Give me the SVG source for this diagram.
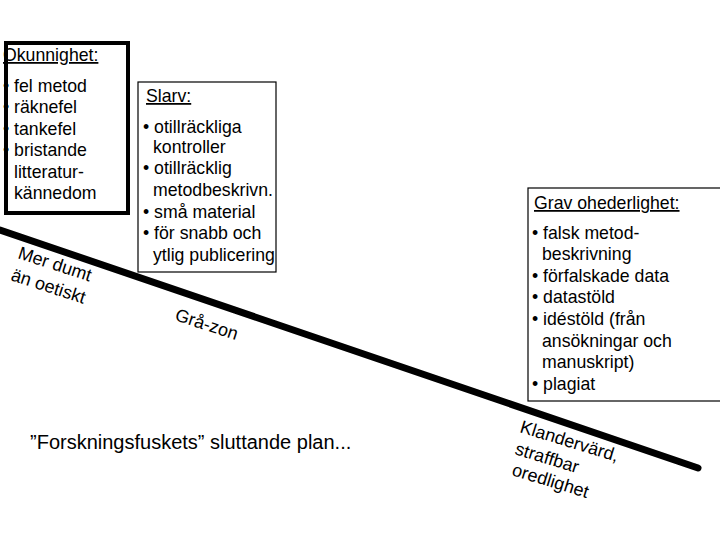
<svg xmlns="http://www.w3.org/2000/svg" width="720" height="540" viewBox="0 0 720 540">
<style>
text{font-family:"Liberation Sans",Arial,sans-serif;fill:#000}
.t{font-size:17.7px}
.h{font-size:17.7px;text-decoration:underline}
.r{font-size:18px}
.box{fill:#fff;stroke:#000}
</style>
<rect width="720" height="540" fill="#fff"/>
<g id="connectors">
<line x1="0" y1="230" x2="698" y2="468" stroke="#000" stroke-width="7" stroke-linecap="round"/>
</g>
<g id="okunnighet">
<rect class="box" x="6" y="43" width="122" height="170" stroke-width="4"/>
<text class="h" x="3" y="61">Okunnighet:</text>
<text class="t" x="3" y="92">• fel metod</text>
<text class="t" x="3" y="113">• räknefel</text>
<text class="t" x="3" y="135">• tankefel</text>
<text class="t" x="3" y="156">• bristande</text>
<text class="t" x="14" y="178">litteratur-</text>
<text class="t" x="14" y="199">kännedom</text>
<rect x="6" y="43" width="122" height="170" fill="none" stroke="#000" stroke-width="4"/>
</g>
<g id="slarv">
<rect class="box" x="138" y="82" width="138" height="190" stroke-width="1.2"/>
<text class="h" x="146" y="102">Slarv:</text>
<text class="t" x="143" y="133">• otillräckliga</text>
<text class="t" x="153" y="153">kontroller</text>
<text class="t" x="143" y="174">• otillräcklig</text>
<text class="t" x="153" y="196">metodbeskrivn.</text>
<text class="t" x="143" y="218">• små material</text>
<text class="t" x="143" y="239">• för snabb och</text>
<text class="t" x="153" y="261">ytlig publicering</text>
</g>
<g id="grav">
<rect class="box" x="528" y="188" width="195" height="213" stroke-width="1.2"/>
<text class="h" x="534" y="209">Grav ohederlighet:</text>
<text class="t" x="532" y="239">• falsk metod-</text>
<text class="t" x="542" y="260">beskrivning</text>
<text class="t" x="532" y="282">• förfalskade data</text>
<text class="t" x="532" y="303">• datastöld</text>
<text class="t" x="532" y="325">• idéstöld (från</text>
<text class="t" x="542" y="347">ansökningar och</text>
<text class="t" x="542" y="368">manuskript)</text>
<text class="t" x="532" y="390">• plagiat</text>
</g>
<g id="label-dumt">
<text class="r" transform="translate(17 258) rotate(18)">Mer dumt</text>
<text class="r" transform="translate(10 280) rotate(18)">än oetiskt</text>
</g>
<g id="label-grazon">
<text class="r" transform="translate(174 320) rotate(18)">Grå-zon</text>
</g>
<g id="label-klandervard">
<text class="r" transform="translate(519 432) rotate(17)">Klandervärd,</text>
<text class="r" transform="translate(514 454) rotate(17)">straffbar</text>
<text class="r" transform="translate(511 475) rotate(17)">oredlighet</text>
</g>
<g id="title">
<text x="30" y="449" style="font-size:20px">”Forskningsfuskets” sluttande plan...</text>
</g>
</svg>
